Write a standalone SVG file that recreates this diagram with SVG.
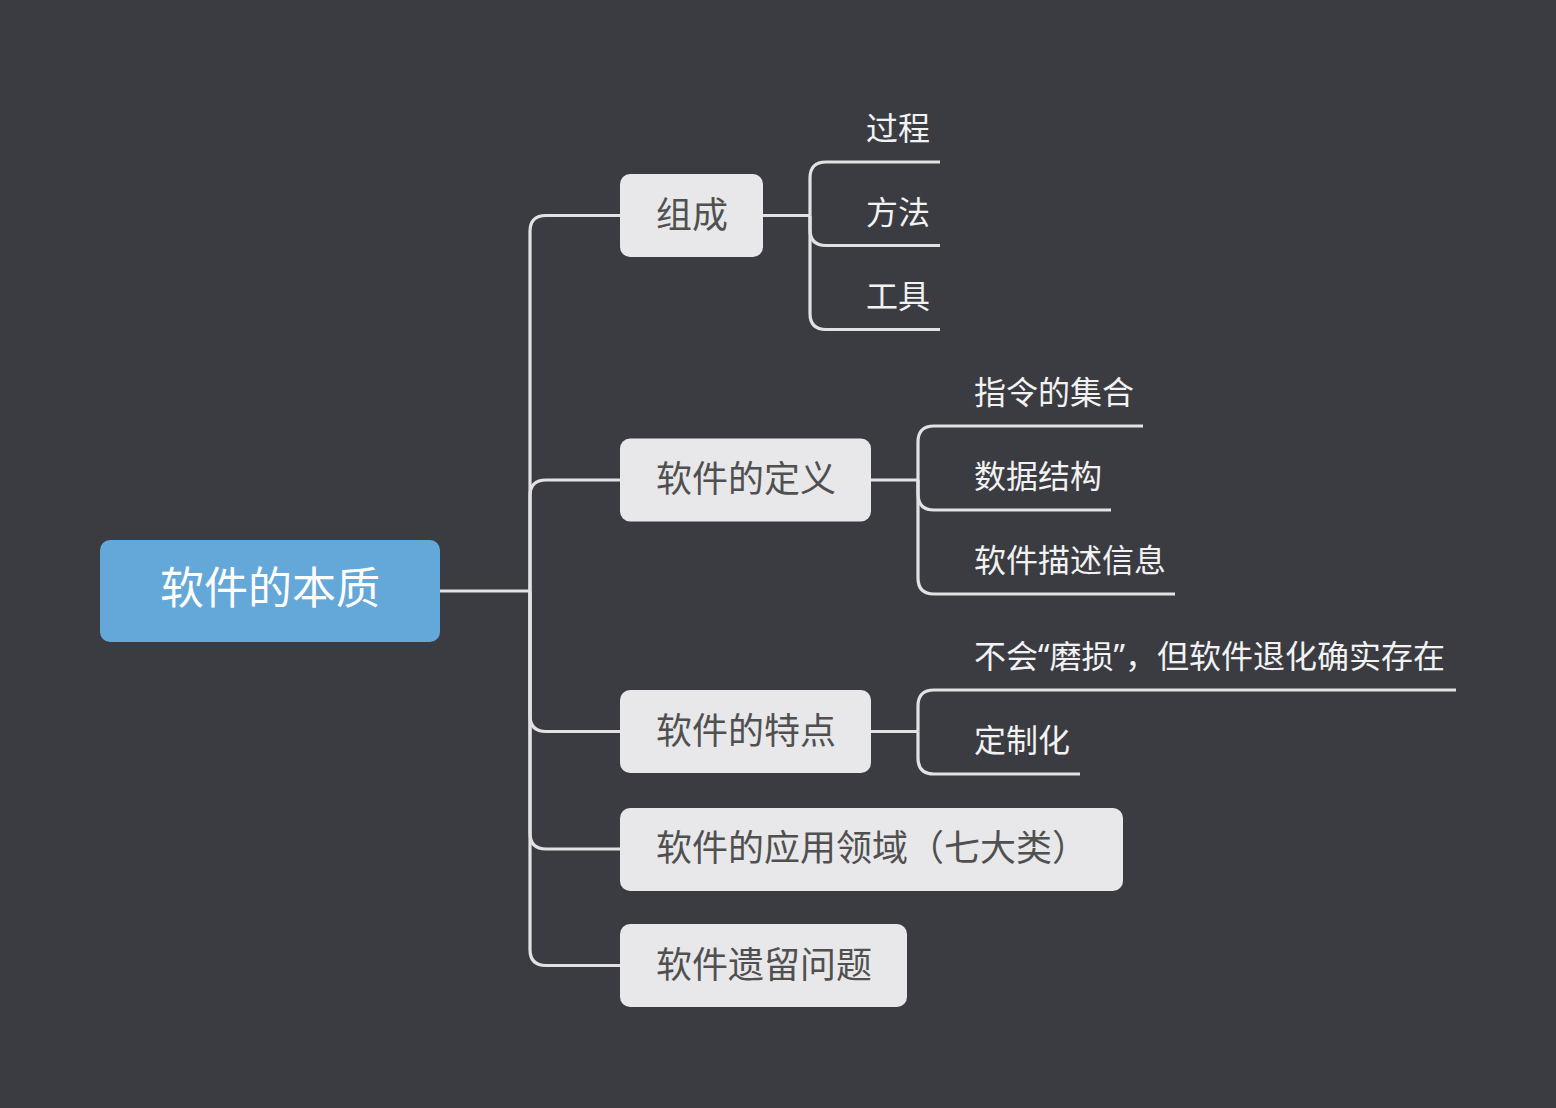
<svg xmlns="http://www.w3.org/2000/svg" width="1556" height="1108" viewBox="0 0 1556 1108">
<style>
.bg{fill:#3B3C42}
.conn path{fill:none;stroke:#E2E2E4;stroke-width:3.2;stroke-linecap:butt}
.root rect{fill:#64A8D9}
.root text{fill:#FFFFFF;font-size:44px}
.branch rect{fill:#E8E8EA}
.branch text{fill:#505050;font-size:36px}
.leaf text{fill:#F2F2F2;font-size:32px}
text{font-family:"Noto Sans CJK SC","Noto Sans",sans-serif}
.lat{font-family:"Noto Sans","Liberation Sans",sans-serif}
</style>
<rect class="bg" x="0" y="0" width="1556" height="1108"/>
<g class="conn" id="connectors">
<path d="M440,591 H530"/>
<path d="M530,591 V231.5 Q530,215.5 546,215.5 H620"/>
<path d="M530,591 V496 Q530,480 546,480 H620"/>
<path d="M530,591 V715.5 Q530,731.5 546,731.5 H620"/>
<path d="M530,591 V833 Q530,849 546,849 H620"/>
<path d="M530,591 V949.5 Q530,965.5 546,965.5 H620"/>
<path d="M763,215.5 H810"/>
<path d="M810,215.5 V178 Q810,162 826,162 H940"/>
<path d="M810,215.5 V229.5 Q810,245.5 826,245.5 H940"/>
<path d="M810,215.5 V313.5 Q810,329.5 826,329.5 H940"/>
<path d="M871,480 H918"/>
<path d="M918,480 V442 Q918,426 934,426 H1143"/>
<path d="M918,480 V494 Q918,510 934,510 H1111"/>
<path d="M918,480 V578 Q918,594 934,594 H1175"/>
<path d="M871,731.5 H918"/>
<path d="M918,731.5 V706 Q918,690 934,690 H1456"/>
<path d="M918,731.5 V758 Q918,774 934,774 H1080"/>
</g>
<g class="root" id="node-root">
<rect x="100" y="540" width="340" height="102" rx="10"/>
<text x="270" y="604" text-anchor="middle">软件的本质</text>
</g>
<g class="branch" id="node-zucheng">
<rect x="620" y="174" width="143" height="83" rx="10"/>
<text x="656" y="227.5">组成</text>
</g>
<g class="branch" id="node-dingyi">
<rect x="620" y="438.5" width="251" height="83" rx="10"/>
<text x="656" y="492">软件的定义</text>
</g>
<g class="branch" id="node-tedian">
<rect x="620" y="690" width="251" height="83" rx="10"/>
<text x="656" y="743.5">软件的特点</text>
</g>
<g class="branch" id="node-yingyong">
<rect x="620" y="808" width="503" height="83" rx="10"/>
<text x="656" y="861">软件的应用领域（七大类）</text>
</g>
<g class="branch" id="node-yiliu">
<rect x="620" y="924" width="287" height="83" rx="10"/>
<text x="656" y="977.5">软件遗留问题</text>
</g>
<g class="leaf" id="node-guocheng"><text x="866" y="140">过程</text></g>
<g class="leaf" id="node-fangfa"><text x="866" y="223.5">方法</text></g>
<g class="leaf" id="node-gongju"><text x="866" y="307.5">工具</text></g>
<g class="leaf" id="node-zhiling"><text x="974" y="404">指令的集合</text></g>
<g class="leaf" id="node-shuju"><text x="974" y="488">数据结构</text></g>
<g class="leaf" id="node-miaoshu"><text x="974" y="572">软件描述信息</text></g>
<g class="leaf" id="node-mosun"><text x="974" y="668">不会<tspan class="lat">“</tspan>磨损<tspan class="lat">”</tspan>，但软件退化确实存在</text></g>
<g class="leaf" id="node-dingzhi"><text x="974" y="752">定制化</text></g>
</svg>
